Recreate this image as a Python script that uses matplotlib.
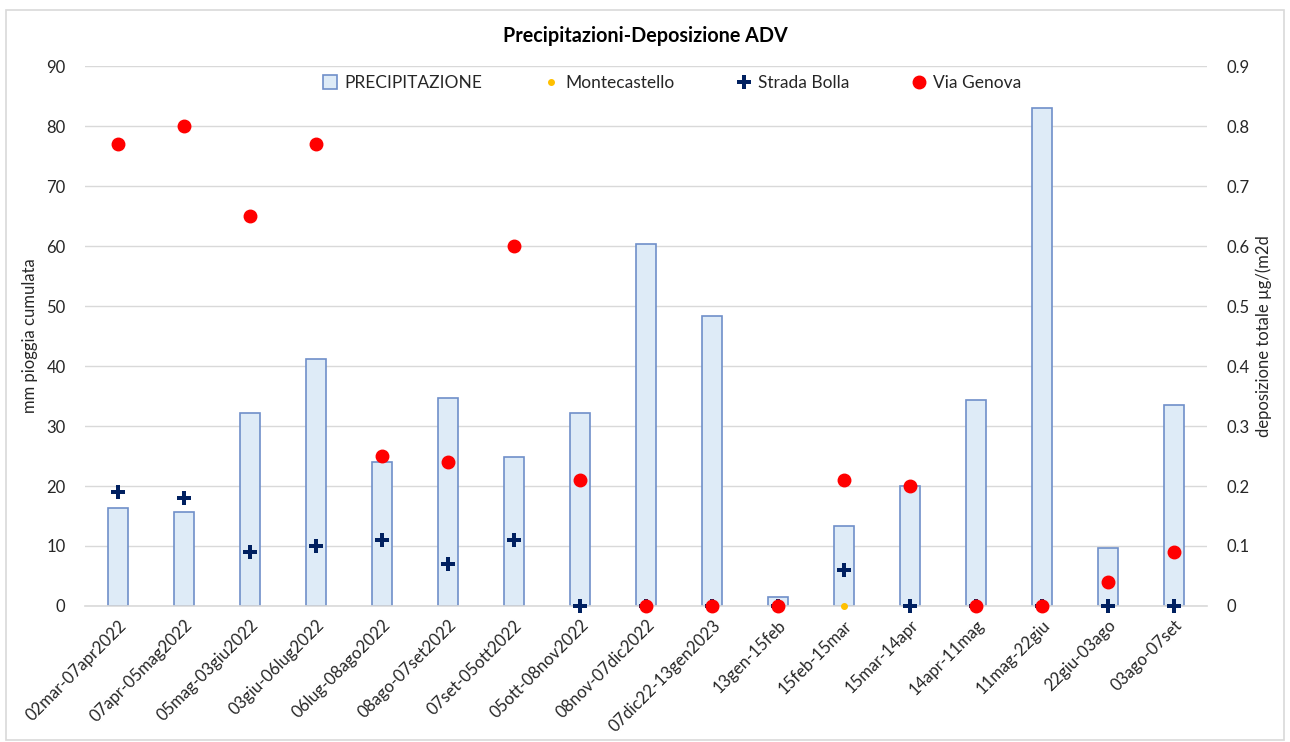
import numpy as np
import matplotlib.pyplot as plt
from matplotlib.patches import Rectangle
from matplotlib.lines import Line2D
from matplotlib.patches import Patch

plt.rcParams['font.family'] = ['Lato', 'DejaVu Sans']

periodi = ['02mar-07apr2022', '07apr-05mag2022', '05mag-03giu2022', '03giu-06lug2022',
           '06lug-08ago2022', '08ago-07set2022', '07set-05ott2022', '05ott-08nov2022',
           '08nov-07dic2022', '07dic22-13gen2023', '13gen-15feb', '15feb-15mar',
           '15mar-14apr', '14apr-11mag', '11mag-22giu', '22giu-03ago', '03ago-07set']
precipitazione = [16.4, 15.6, 32.2, 41.2, 24.0, 34.6, 24.8, 32.2, 60.4, 48.4,
                  1.5, 13.3, 20.0, 34.3, 83.0, 9.7, 33.5]
montecastello = [np.nan] * 11 + [0.0] + [np.nan] * 5
strada_bolla = [0.19, 0.18, 0.09, 0.10, 0.11, 0.07, 0.11, 0.0, 0.0, 0.0,
                0.0, 0.06, 0.0, 0.0, 0.0, 0.0, 0.0]
via_genova = [0.77, 0.80, 0.65, 0.77, 0.25, 0.24, 0.60, 0.21, 0.0, 0.0,
              0.0, 0.21, 0.20, 0.0, 0.0, 0.04, 0.09]

testo = '#262626'
griglia = '#D9D9D9'

fig = plt.figure(figsize=(12.9, 7.42), dpi=100)
ax = fig.add_axes([0.0659, 0.1833, 0.8698, 0.7277])
x = np.arange(len(periodi))

ax.bar(x, precipitazione, width=0.3, facecolor='#DEEBF7', edgecolor='#6F8FC9', linewidth=1.2, zorder=2)
ax.set_ylim(0, 90)
ax.set_yticks(np.arange(0, 91, 10))
ax.set_xlim(-0.5, len(periodi) - 0.5)
ax.set_xticks(x)
ax.set_xticklabels(periodi, rotation=45, ha='right', rotation_mode='anchor', fontsize=12.5, color=testo)
ax.grid(axis='y', color=griglia, linewidth=1, zorder=0)
ax.set_axisbelow(True)
for s in ['top', 'left', 'right']:
    ax.spines[s].set_visible(False)
ax.spines['bottom'].set_color(griglia)
ax.spines['bottom'].set_linewidth(1.2)
ax.tick_params(axis='both', length=0, labelsize=12, colors=testo)
ax.tick_params(axis='y', pad=14)
ax.tick_params(axis='x', pad=8)
ax.set_ylabel('mm pioggia cumulata', fontsize=12, color=testo, labelpad=6)

ax2 = ax.twinx()
ax2.set_ylim(0, 0.9)
ax2.set_yticks(np.round(np.arange(0, 0.91, 0.1), 1))
ax2.set_yticklabels(['0'] + ['%.1f' % v for v in np.arange(0.1, 0.91, 0.1)])
for s in ['top', 'left', 'right', 'bottom']:
    ax2.spines[s].set_visible(False)
ax2.tick_params(axis='y', length=0, labelsize=12, colors=testo, pad=14)
ax2.set_ylabel('deposizione totale µg/(m2d', fontsize=12, color=testo, labelpad=4)

ax2.plot(x, montecastello, 'o', color='#FFC000', markersize=4, linestyle='none', clip_on=False, zorder=3)
ax2.plot(x, strada_bolla, 'P', color='#002060', markersize=10, markeredgewidth=0, linestyle='none', clip_on=False, zorder=4)
ax2.plot(x, via_genova, 'o', color='#FF0000', markersize=9, linestyle='none', clip_on=False, zorder=5)

handles = [
    Patch(facecolor='#DEEBF7', edgecolor='#6F8FC9', linewidth=1.2),
    Line2D([], [], marker='o', color='#FFC000', markersize=4, linestyle='none'),
    Line2D([], [], marker='P', color='#002060', markersize=10, markeredgewidth=0, linestyle='none'),
    Line2D([], [], marker='o', color='#FF0000', markersize=9, linestyle='none'),
]
labels = ['PRECIPITAZIONE', 'Montecastello', 'Strada Bolla', 'Via Genova']
fig.legend(handles, labels, loc='center', bbox_to_anchor=(0.521, 0.888), ncol=4, frameon=False,
           fontsize=12.5, handlelength=0.8, handleheight=0.8, handletextpad=0.4, columnspacing=3.6,
           labelcolor=testo)

fig.text(0.5, 0.951, 'Precipitazioni-Deposizione ADV', ha='center', va='center',
         fontsize=14.2, fontweight='bold', color='black')

fig.patches.append(Rectangle((0.005, 0.003), 0.99, 0.984, transform=fig.transFigure,
                             fill=False, edgecolor=griglia, linewidth=1.2))

fig.savefig('out.png', dpi=100)
plt.close(fig)
